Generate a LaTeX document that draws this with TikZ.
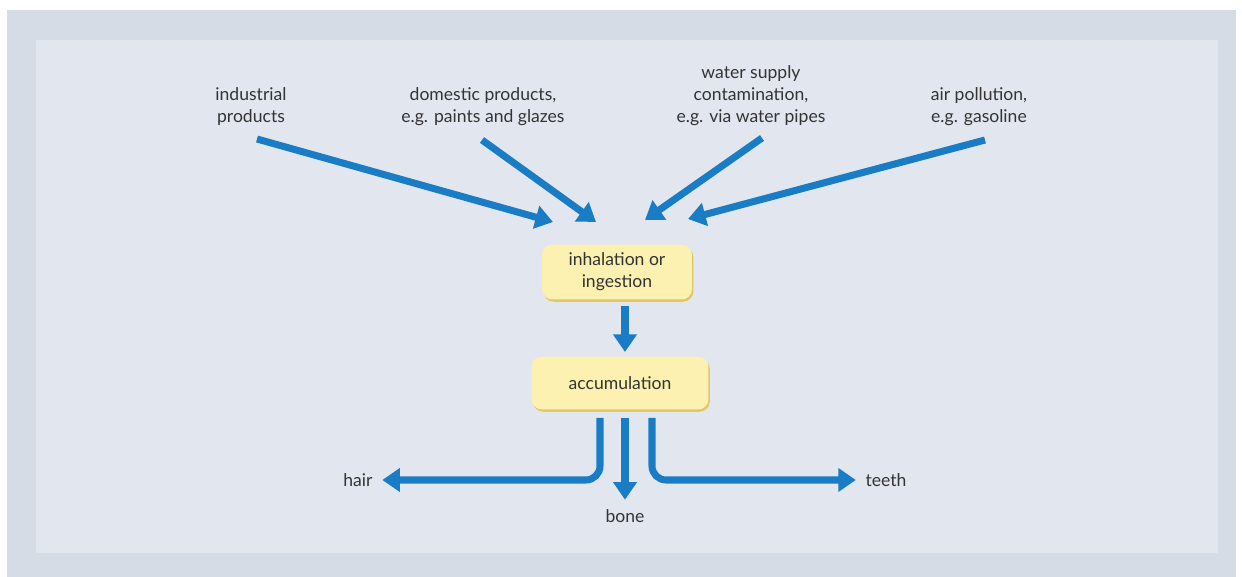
\documentclass[tikz,border=0pt]{standalone}
\usepackage{fontspec}
\setmainfont{Lato}
\usetikzlibrary{arrows.meta,shadows}

\definecolor{panelout}{HTML}{D5DCE6}
\definecolor{panelin}{HTML}{E2E7EF}
\definecolor{flowblue}{HTML}{1A7CC4}
\definecolor{boxfill}{HTML}{FCF1B0}
\definecolor{boxedge}{HTML}{E3C765}
\definecolor{labelgrey}{HTML}{333333}

\begin{document}
\begin{tikzpicture}[x=0.02cm,y=-0.02cm,
	flow/.style={line width=4pt,draw=flowblue,-{Triangle[width=13pt,length=10pt]}},
	stagebox/.style={rounded corners=6pt,fill=boxfill,text=labelgrey,align=center,
		drop shadow={shadow xshift=0.8pt,shadow yshift=-1.3pt,fill=boxedge,opacity=1},
		font=\fontsize{10}{12.5}\selectfont},
	src/.style={align=center,text=labelgrey,font=\fontsize{10}{12.5}\selectfont}]
	\useasboundingbox (0,0) rectangle (1242,577);
	% panels
	\fill[white] (0,0) rectangle (1242,577);
	\fill[panelout] (7,10) rectangle (1236,577);
	\fill[panelin] (36,40) rectangle (1218,553);

	% sources
	\node[src] (ind) at (251,107) {industrial\\products};
	\node[src] (dom) at (483,107) {domestic products,\\e.g. paints and glazes};
	\node[src] (wat) at (751,96) {water supply\\contamination,\\e.g. via water pipes};
	\node[src] (air) at (979,107) {air pollution,\\e.g. gasoline};

	% stages
	\node[stagebox,minimum width=3cm,minimum height=1.1cm] (inh) at (617,272) {inhalation or\\ingestion};
	\node[stagebox,minimum width=3.54cm,minimum height=1.06cm] (acc) at (620,383) {accumulation};

	% ends
	\node[src] (hair) at (358,480) {hair};
	\node[src] (bone) at (625,516) {bone};
	\node[src] (teeth) at (886,480) {teeth};

	% arrow ends above the first stage
	\foreach \nm/\sx/\sy/\ex/\ey in {ind/257/139/553/222, dom/482/140/596/222,
		wat/762/138/645/220, air/985/140/688/219}
	{
		\coordinate (\nm-out) at (\sx,\sy);
		\coordinate (\nm-in) at (\ex,\ey);
		\draw[flow] (\nm-out) -- (\nm-in);
	}

	\coordinate (inh-out) at (625,306);
	\coordinate (acc-in) at (625,352);
	\draw[flow] (inh-out) -- (acc-in);

	% split into three
	\coordinate (acc-l) at (600,418);
	\coordinate (acc-m) at (625,418);
	\coordinate (acc-r) at (652,418);
	\draw[flow,rounded corners=8pt] (acc-l) |- ([xshift=2pt]hair.east);
	\draw[flow] (acc-m) -- ([yshift=2pt]bone.north);
	\draw[flow,rounded corners=8pt] (acc-r) |- ([xshift=-2pt]teeth.west);
\end{tikzpicture}
\end{document}
